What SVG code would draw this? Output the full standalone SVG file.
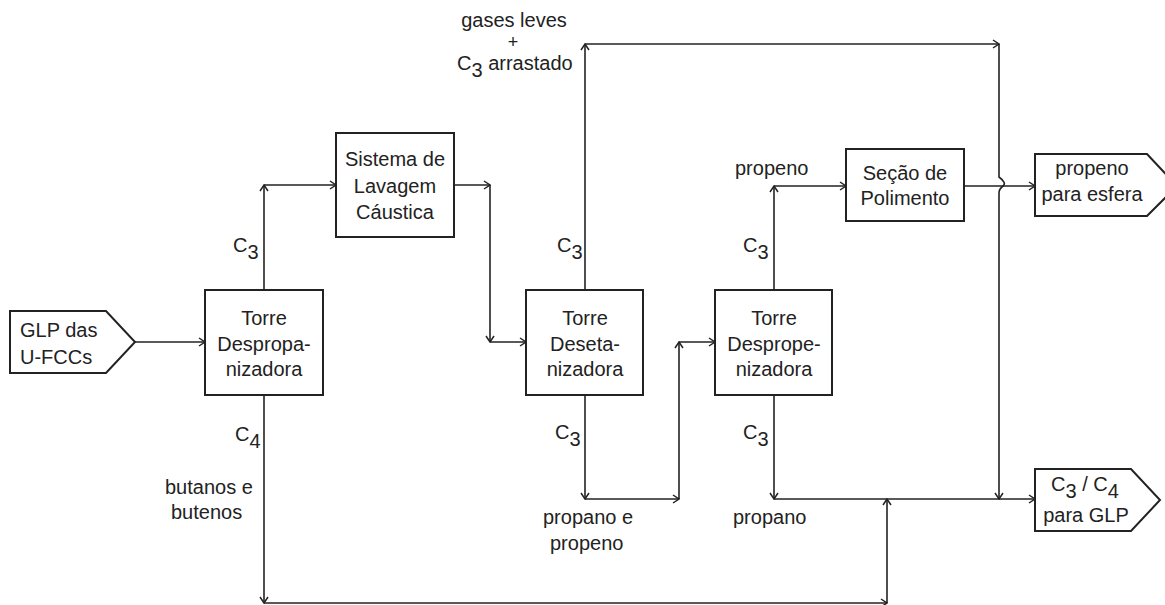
<svg xmlns="http://www.w3.org/2000/svg" width="1165" height="605" viewBox="0 0 1165 605">
<style>
.box{fill:#fff;stroke:#222;stroke-width:2}
.ln{fill:none;stroke:#222;stroke-width:1.6}
.ar{marker-end:url(#arr)}
text{font-family:"Liberation Sans",Arial,sans-serif;font-size:20px;fill:#222}
.m{text-anchor:middle}
</style>
<defs>
<marker id="arr" markerUnits="userSpaceOnUse" viewBox="-8 -5 9 10" refX="0" refY="0" markerWidth="9" markerHeight="10" orient="auto">
<path d="M-6,-4 L0,0 L-6,4" fill="none" stroke="#222" stroke-width="1.5"/>
</marker>
</defs>
<rect width="1165" height="605" fill="#fff"/>
<g id="connectors">
<path class="ln ar" d="M135,342 H205"/>
<path class="ln ar" d="M264,290 V185"/>
<path class="ln ar" d="M264,185 H336"/>
<path class="ln ar" d="M454,185 H490"/>
<path class="ln ar" d="M490,185 V342"/>
<path class="ln ar" d="M490,342 H526"/>
<path class="ln ar" d="M585,290 V44"/>
<path class="ln ar" d="M585,44 H999"/>
<path class="ln ar" d="M999,44 V177 Q1007,183 1003,186 Q999,189 999,193 V499"/>
<path class="ln ar" d="M585,395 V499"/>
<path class="ln ar" d="M585,499 H679"/>
<path class="ln ar" d="M679,499 V342"/>
<path class="ln ar" d="M679,342 H715"/>
<path class="ln ar" d="M774,290 V186"/>
<path class="ln ar" d="M774,186 H846"/>
<path class="ln ar" d="M964,186 H1035"/>
<path class="ln ar" d="M774,395 V499"/>
<path class="ln ar" d="M774,499 H1035"/>
<path class="ln ar" d="M264,395 V603"/>
<path class="ln ar" d="M264,603 H887"/>
<path class="ln ar" d="M887,603 V499"/>
</g>
<g id="glp-ufcc">
<polygon class="box" points="10,311 106,311 135,342 106,373 10,373"/>
<text x="20" y="337">GLP das</text>
<text x="20" y="364">U-FCCs</text>
</g>
<g id="torre-despropanizadora">
<rect class="box" x="205" y="290" width="118" height="105"/>
<text class="m" x="264" y="325">Torre</text>
<text class="m" x="264" y="351">Despropa-</text>
<text class="m" x="264" y="376">nizadora</text>
</g>
<g id="sistema-lavagem">
<rect class="box" x="336" y="133" width="118" height="104"/>
<text class="m" x="395" y="166">Sistema de</text>
<text class="m" x="395" y="193">Lavagem</text>
<text class="m" x="395" y="219">Cáustica</text>
</g>
<g id="torre-desetanizadora">
<rect class="box" x="526" y="290" width="117" height="105"/>
<text class="m" x="585" y="325">Torre</text>
<text class="m" x="585" y="351">Deseta-</text>
<text class="m" x="585" y="376">nizadora</text>
</g>
<g id="torre-despropenizadora">
<rect class="box" x="715" y="290" width="117" height="105"/>
<text class="m" x="774" y="325">Torre</text>
<text class="m" x="774" y="351">Desprope-</text>
<text class="m" x="774" y="376">nizadora</text>
</g>
<g id="secao-polimento">
<rect class="box" x="846" y="149" width="118" height="72"/>
<text class="m" x="905" y="180">Seção de</text>
<text class="m" x="905" y="205">Polimento</text>
</g>
<g id="propeno-esfera">
<polygon class="box" points="1035,154 1147,154 1177,186 1147,216 1035,216"/>
<text class="m" x="1092" y="175">propeno</text>
<text class="m" x="1092" y="201">para esfera</text>
</g>
<g id="c3c4-glp">
<polygon class="box" points="1035,469 1131,469 1160,500 1131,531 1035,531"/>
<text x="1051" y="491">C<tspan dy="7">3</tspan><tspan dy="-7"> / C</tspan><tspan dy="7">4</tspan></text>
<text class="m" x="1086" y="522">para GLP</text>
</g>
<g id="labels">
<text class="m" x="514" y="27">gases leves</text>
<text class="m" x="513" y="48" style="font-size:18px">+</text>
<text x="457" y="70">C<tspan dy="7">3</tspan><tspan dy="-7"> arrastado</tspan></text>
<text x="233" y="252">C<tspan dy="7">3</tspan></text>
<text x="557" y="252">C<tspan dy="7">3</tspan></text>
<text x="743" y="252">C<tspan dy="7">3</tspan></text>
<text x="735" y="175">propeno</text>
<text x="235" y="441">C<tspan dy="7">4</tspan></text>
<text x="165" y="494">butanos e</text>
<text x="171" y="519">butenos</text>
<text x="555" y="439">C<tspan dy="7">3</tspan></text>
<text x="743" y="439">C<tspan dy="7">3</tspan></text>
<text x="543" y="524">propano e</text>
<text x="550" y="550">propeno</text>
<text x="733" y="524">propano</text>
</g>
</svg>
